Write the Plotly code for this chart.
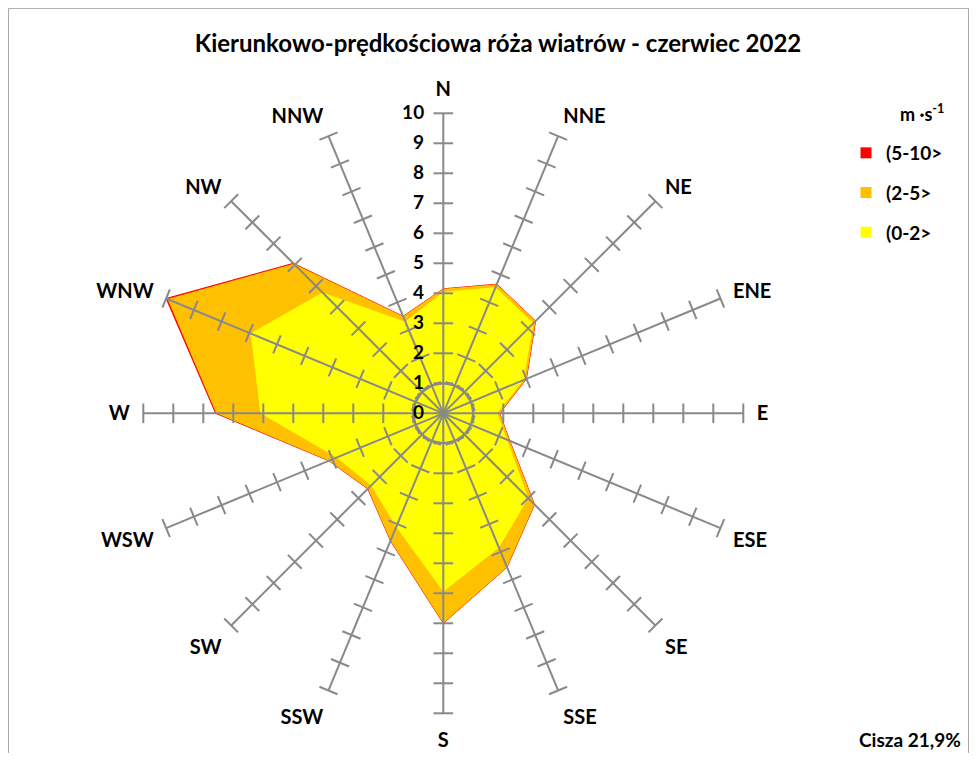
import plotly.graph_objects as go

# ---- data -------------------------------------------------------------
directions = ["N", "NNE", "NE", "ENE", "E", "ESE", "SE", "SSE",
              "S", "SSW", "SW", "WSW", "W", "WNW", "NW", "NNW"]
speed_0_2 = [4.05, 4.55, 4.25, 2.90, 1.80, 2.30, 4.00, 4.85,
             5.95, 4.10, 3.40, 3.85, 6.10, 6.95, 5.70, 3.30]
speed_2_5 = [0.10, 0.11, 0.10, 0.10, 0.08, 0.10, 0.30, 0.70,
             1.05, 0.50, 0.16, 0.28, 1.47, 3.00, 1.35, 0.20]
speed_5_10 = [0.00, 0.00, 0.00, 0.00, 0.00, 0.00, 0.00, 0.00,
              0.00, 0.00, 0.00, 0.00, 0.02, 0.05, 0.02, 0.00]
series_names = ["(0-2>", "(2-5>", "(5-10>"]
radial_ticks = list(range(0, 11))
calm_ring = 1
title_text = "Kierunkowo-prędkościowa róża wiatrów - czerwiec 2022"
unit_text = "m ·s<sup>-1</sup>"
calm_text = "Cisza 21,9%"

# ---- styles / geometry -----------------------------------------------
FONT = "Lato"
GRAY = "#898989"
COL_Y = "#FFFF00"
COL_O = "#FFC000"
COL_R = "#FF0000"

OFF = 8                      # page body margin of the html
W, H = 977 - 2 * OFF, 761 - 2 * OFF


def px(x):                   # page x -> paper
    return (x - OFF) / W


def py(y):                   # page y -> paper
    return 1 - (y - OFF) / H


CX, CY, R = 443.3, 413.3, 300

cum1 = speed_0_2
cum2 = [a + b for a, b in zip(cum1, speed_2_5)]
cum3 = [a + b for a, b in zip(cum2, speed_5_10)]


def closed(v):
    return list(v) + [v[0]]


theta_c = closed(directions)
fig = go.Figure()

fig.add_trace(go.Scatterpolar(r=closed(cum3), theta=theta_c, mode="lines", fill="toself",
                              fillcolor=COL_R, line=dict(color=COL_R, width=1),
                              showlegend=False, hoverinfo="skip"))
fig.add_trace(go.Scatterpolar(r=closed(cum2), theta=theta_c, mode="lines", fill="toself",
                              fillcolor=COL_O, line=dict(color=COL_O, width=0),
                              showlegend=False, hoverinfo="skip"))
fig.add_trace(go.Scatterpolar(r=closed(cum1), theta=theta_c, mode="lines", fill="toself",
                              fillcolor=COL_Y, line=dict(color=COL_Y, width=0),
                              showlegend=False, hoverinfo="skip"))

# spokes drawn above the filled areas
sr, st = [], []
for d in directions:
    sr += [radial_ticks[0], radial_ticks[-1], None]
    st += [d, d, None]
fig.add_trace(go.Scatterpolar(r=sr, theta=st, mode="lines", connectgaps=False,
                              line=dict(color=GRAY, width=2), showlegend=False, hoverinfo="skip"))

# inner ring
fig.add_trace(go.Scatterpolar(r=[calm_ring] * len(theta_c), theta=theta_c, mode="lines",
                              line=dict(color=GRAY, width=2), showlegend=False, hoverinfo="skip"))

# tick marks along every spoke
tr, tt, ta = [], [], []
for i, d in enumerate(directions):
    for k in radial_ticks[1:]:
        tr.append(k)
        tt.append(d)
        ta.append(i * 360 / len(directions))
fig.add_trace(go.Scatterpolar(r=tr, theta=tt, mode="markers",
                              marker=dict(symbol="line-ew", size=14, angle=ta,
                                          line=dict(color=GRAY, width=2)),
                              showlegend=False, hoverinfo="skip"))

# legend entries
for name, col in [(series_names[2], COL_R), (series_names[1], COL_O), (series_names[0], COL_Y)]:
    fig.add_trace(go.Scatterpolar(r=[None], theta=[directions[0]], mode="markers", name=name,
                                  legendgroup=name,
                                  marker=dict(symbol="square", size=11, color=col)))

fig.update_layout(
    width=W, height=H,
    margin=dict(l=0, r=0, t=0, b=0),
    paper_bgcolor="white", plot_bgcolor="white",
    font=dict(family=FONT, color="black"),
    title=dict(text=title_text, x=px(498), xanchor="center", y=py(44),
               yanchor="middle", yref="container",
               font=dict(family=FONT, size=24, weight="bold", color="black")),
    polar=dict(
        domain=dict(x=[px(CX - R), px(CX + R)], y=[py(CY + R), py(CY - R)]),
        bgcolor="rgba(0,0,0,0)",
        angularaxis=dict(direction="clockwise", rotation=90, categoryorder="array",
                         categoryarray=directions, showline=False, showgrid=False,
                         ticks="outside", ticklen=9, tickcolor="rgba(0,0,0,0)",
                         tickfont=dict(family=FONT, size=20, weight="bold", color="black")),
        radialaxis=dict(range=[0, 10], angle=90, tickangle=90, tickvals=radial_ticks,
                        showgrid=False, showline=False, ticks="outside", ticklen=12,
                        tickcolor="rgba(0,0,0,0)", side="counterclockwise",
                        tickfont=dict(family=FONT, size=19, weight="bold", color="black")),
    ),
    legend=dict(x=px(846), y=py(134), xanchor="left", yanchor="top",
                tracegroupgap=12, font=dict(family=FONT, size=19, weight="bold", color="black"),
                bgcolor="rgba(0,0,0,0)"),
    annotations=[
        dict(text=unit_text, x=px(922), y=py(113), xref="paper", yref="paper", showarrow=False,
             xanchor="center", yanchor="middle",
             font=dict(family=FONT, size=18, weight="bold", color="black")),
        dict(text=calm_text, x=px(963), y=py(739), xref="paper", yref="paper",
             showarrow=False, xanchor="right", yanchor="middle",
             font=dict(family=FONT, size=19, weight="bold", color="black")),
    ],
    shapes=[dict(type="rect", xref="paper", yref="paper", x0=0.0005, x1=0.9995, y0=-0.01,
                 y1=0.9995, line=dict(color="#A6A6A6", width=1))],
)

fig.write_html("out.html")
